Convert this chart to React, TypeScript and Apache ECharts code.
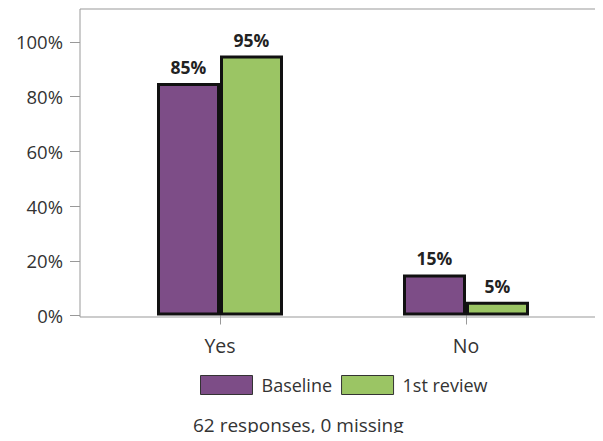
import React, { useEffect, useRef } from "react";
import * as echarts from "echarts";

const categories = ["Yes", "No"];
const baseline = [85, 15];
const firstReview = [95, 5];
const yTicks = [0, 20, 40, 60, 80, 100];
const footnote = "62 responses, 0 missing";

const FONT = "'Open Sans', 'Noto Sans', sans-serif";

export default function App() {
  const ref = useRef<HTMLDivElement>(null);
  useEffect(() => {
    if (!ref.current) return;
    const chart = echarts.init(ref.current, null, { renderer: "svg" });
    const labelCfg = {
      show: true,
      position: "top",
      distance: 7,
      formatter: "{c}%",
      fontFamily: FONT,
      fontWeight: "bold",
      fontSize: 17.5,
      color: "#222",
    };
    chart.setOption({
      animation: false,
      textStyle: { fontFamily: FONT },
      grid: [
        { left: 80, right: 1, top: 9, bottom: 124, show: true, borderColor: "#999", borderWidth: 1 },
        { left: 80, right: 1, top: 9, bottom: 125.5 },
        { left: 97, right: 14, top: 9, bottom: 125.5 },
      ],
      xAxis: [
        { type: "value", gridIndex: 0, show: false, min: 0, max: 1 },
        { type: "value", gridIndex: 1, show: false, min: 0, max: 1 },
        {
          type: "category",
          gridIndex: 2,
          data: categories,
          axisLine: { show: false },
          offset: 1.5,
          axisTick: { show: true, alignWithLabel: true, length: 9, lineStyle: { color: "#999" } },
          axisLabel: { margin: 18, fontSize: 19.5, color: "#333", fontFamily: FONT },
        },
      ],
      yAxis: [
        { type: "value", gridIndex: 0, show: false, min: 0, max: 1, splitLine: { show: false } },
        {
          type: "value",
          gridIndex: 1,
          min: 0,
          max: 112,
          interval: 20,
          axisLine: { show: false },
          axisTick: { show: true, length: 10, lineStyle: { color: "#999" }, customValues: yTicks },
          axisLabel: {
            margin: 17,
            fontSize: 18.5,
            color: "#333",
            fontFamily: FONT,
            customValues: yTicks,
            formatter: (v: number) => `${v}%`,
          },
          splitLine: { show: false },
        },
        { type: "value", gridIndex: 2, min: 0, max: 112, show: false, splitLine: { show: false } },
      ],
      legend: {
        left: 200,
        top: 375,
        padding: 0,
        icon: "rect",
        itemWidth: 52,
        itemHeight: 19,
        itemGap: 9,
        itemStyle: { borderWidth: 1, borderColor: "#333" },
        textStyle: { fontSize: 18, color: "#333", fontFamily: FONT, padding: [0, 0, 0, 4] },
        data: ["Baseline", "1st review"],
      },
      series: [
        {
          name: "Baseline",
          type: "bar",
          xAxisIndex: 2,
          yAxisIndex: 2,
          data: baseline,
          barWidth: 63,
          barGap: "0%",
          itemStyle: { color: "#7d4d87", borderColor: "#111", borderWidth: 3 },
          label: labelCfg,
        },
        {
          name: "1st review",
          type: "bar",
          xAxisIndex: 2,
          yAxisIndex: 2,
          data: firstReview,
          barWidth: 63,
          barGap: "0%",
          itemStyle: { color: "#9bc564", borderColor: "#111", borderWidth: 3 },
          label: labelCfg,
        },
      ],
      graphic: [
        {
          type: "text",
          left: 193,
          top: 415,
          style: { text: footnote, fontSize: 19, fill: "#333", fontFamily: FONT },
        },
      ],
    });
    return () => chart.dispose();
  }, []);
  return <div ref={ref} style={{ width: 603, height: 441, margin: -8 }} />;
}
